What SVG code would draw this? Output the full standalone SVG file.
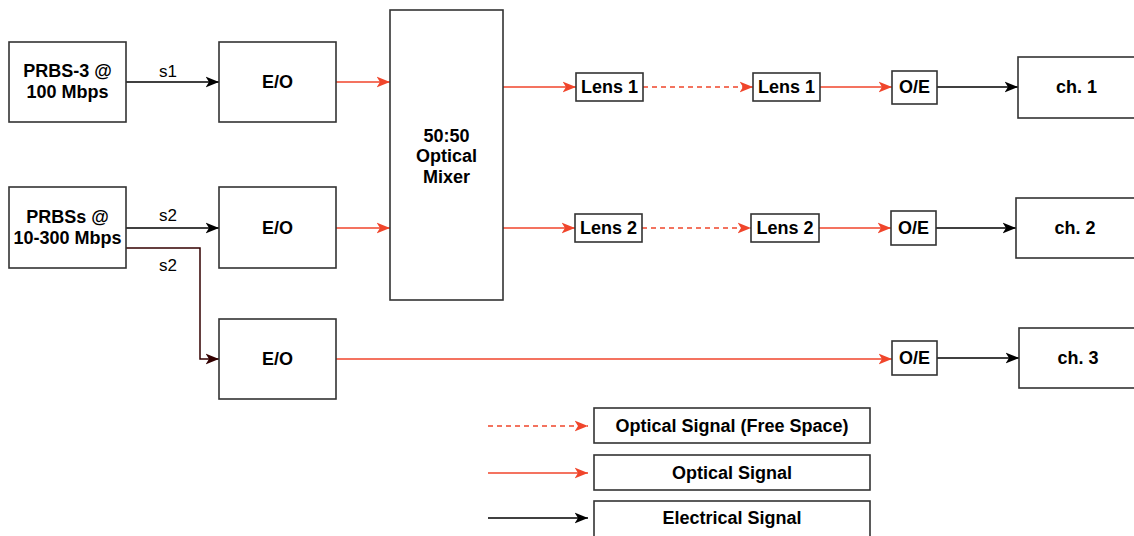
<svg xmlns="http://www.w3.org/2000/svg" width="1134" height="536" viewBox="0 0 1134 536">
<defs>
<marker id="ab" viewBox="0 0 14 12" markerWidth="14" markerHeight="12" refX="13.5" refY="6" orient="auto" markerUnits="userSpaceOnUse"><path d="M0,0.5 L13.5,6 L0,11.5 L3.5,6 Z" fill="#000"/></marker>
<marker id="ar" viewBox="0 0 14 12" markerWidth="14" markerHeight="12" refX="13.5" refY="6" orient="auto" markerUnits="userSpaceOnUse"><path d="M0,0.5 L13.5,6 L0,11.5 L3.5,6 Z" fill="#F0452B"/></marker>
<marker id="abr" viewBox="0 0 14 12" markerWidth="14" markerHeight="12" refX="13.5" refY="6" orient="auto" markerUnits="userSpaceOnUse"><path d="M0,0.5 L13.5,6 L0,11.5 L3.5,6 Z" fill="#330000"/></marker>
</defs>
<style>
rect{fill:#fff;stroke:#333;stroke-width:1.6}
text{font-family:"Liberation Sans",Arial,sans-serif;font-size:18px;font-weight:bold;fill:#000;text-anchor:middle}
.lbl{font-weight:normal;font-size:17px}
.el{fill:none;stroke:#000;stroke-width:1.5;marker-end:url(#ab)}
.op{fill:none;stroke:#F0452B;stroke-width:1.5;marker-end:url(#ar)}
.fs{fill:none;stroke:#F0452B;stroke-width:1.5;stroke-dasharray:5 4;marker-end:url(#ar)}
.br{fill:none;stroke:#330000;stroke-width:1.5;marker-end:url(#abr)}
</style>
<rect x="0" y="0" width="1134" height="536" style="fill:#fff;stroke:none"/>
<g id="connectors">
<path class="el" d="M126,82 H219"/>
<path class="el" d="M126,228 H219"/>
<path class="br" d="M126,248 H200 V359 H219"/>
<path class="op" d="M336,82 H390"/>
<path class="op" d="M336,228 H390"/>
<path class="op" d="M336,359 H892"/>
<path class="op" d="M503,87 H576"/>
<path class="op" d="M503,228 H575"/>
<path class="fs" d="M643,87 H753"/>
<path class="fs" d="M642,228 H751"/>
<path class="op" d="M820,87 H892"/>
<path class="op" d="M819,228 H891"/>
<path class="el" d="M937,87 H1018"/>
<path class="el" d="M936,228 H1016"/>
<path class="el" d="M937,358 H1019"/>
<path class="fs" d="M488,426 H588"/>
<path class="op" d="M488,473 H588"/>
<path class="el" d="M488,518 H588"/>
<text class="lbl" x="168" y="77">s1</text>
<text class="lbl" x="168" y="221">s2</text>
<text class="lbl" x="168" y="271">s2</text>
</g>
<g id="prbs3"><rect x="9" y="42" width="117" height="80"/><text x="67.5" y="77">PRBS-3 @</text><text x="67.5" y="98">100 Mbps</text></g>
<g id="prbss"><rect x="9" y="187" width="117" height="81"/><text x="67.5" y="223">PRBSs @</text><text x="67.5" y="244">10-300 Mbps</text></g>
<g id="eo1"><rect x="219" y="42" width="117" height="80"/><text x="277.5" y="88">E/O</text></g>
<g id="eo2"><rect x="219" y="187" width="117" height="81"/><text x="277.5" y="234">E/O</text></g>
<g id="eo3"><rect x="219" y="319" width="117" height="80"/><text x="277.5" y="365">E/O</text></g>
<g id="mixer"><rect x="390" y="10" width="113" height="290"/><text x="446.5" y="142">50:50</text><text x="446.5" y="162">Optical</text><text x="446.5" y="183">Mixer</text></g>
<g id="lens1a"><rect x="576" y="73" width="67" height="28"/><text x="609.5" y="93">Lens 1</text></g>
<g id="lens2a"><rect x="575" y="214" width="67" height="28"/><text x="608.5" y="234">Lens 2</text></g>
<g id="lens1b"><rect x="753" y="73" width="67" height="28"/><text x="786.5" y="93">Lens 1</text></g>
<g id="lens2b"><rect x="751" y="214" width="68" height="28"/><text x="785" y="234">Lens 2</text></g>
<g id="oe1"><rect x="892" y="71" width="45" height="33"/><text x="914.5" y="93">O/E</text></g>
<g id="oe2"><rect x="891" y="211" width="45" height="34"/><text x="913.5" y="234">O/E</text></g>
<g id="oe3"><rect x="892" y="341" width="45" height="34"/><text x="914.5" y="364">O/E</text></g>
<g id="ch1"><rect x="1018" y="57" width="120" height="61"/><text x="1076.5" y="93">ch. 1</text></g>
<g id="ch2"><rect x="1016" y="198" width="122" height="60"/><text x="1075" y="234">ch. 2</text></g>
<g id="ch3"><rect x="1019" y="328" width="120" height="60"/><text x="1078" y="364">ch. 3</text></g>
<g id="leg1"><rect x="594" y="408" width="276" height="35"/><text x="732" y="432">Optical Signal (Free Space)</text></g>
<g id="leg2"><rect x="594" y="455" width="276" height="35"/><text x="732" y="479">Optical Signal</text></g>
<g id="leg3"><rect x="594" y="501" width="276" height="36"/><text x="732" y="524">Electrical Signal</text></g>
</svg>
